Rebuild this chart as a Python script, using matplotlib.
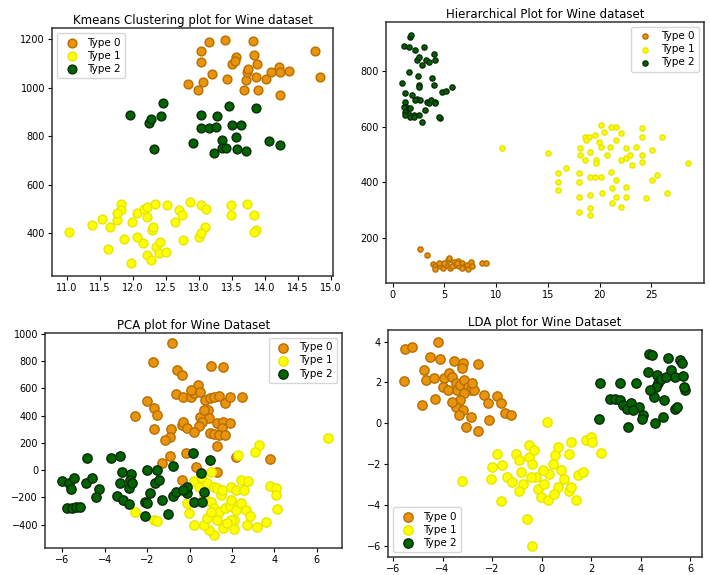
import matplotlib
matplotlib.use('Agg')
import matplotlib.pyplot as plt

plt.rcParams['font.family'] = ['DejaVu Sans']

labels = ['Type 0', 'Type 1', 'Type 2']
colors = ['#E8940C', '#FFFF00', '#006400']
edges = ['#B86E00', '#E6E600', '#0A2A0A']

# ---- Kmeans (alcohol vs proline) ----
km_x0 = [12.84, 12.99, 13.04, 13.04, 13.07, 13.16, 13.20, 13.39, 13.42, 13.50, 13.56, 13.69, 13.71, 13.73,
         13.82, 13.83, 13.86, 13.88, 13.89, 14.02, 14.09, 14.21, 14.22, 14.23, 14.37, 14.75, 14.83, 13.54, 13.75]
km_y0 = [1015, 988, 1104, 1152, 1022, 1186, 1054, 1197, 1033, 1097, 1125, 991, 1029, 1063,
         1193, 1132, 1045, 1095, 988, 1036, 1063, 1084, 970, 1063, 1066, 1149, 1045, 1111, 1077]
km_x1 = [11.03, 11.39, 11.54, 11.62, 11.65, 11.77, 11.82, 11.83, 11.87, 11.98, 11.99, 12.06, 12.07, 12.15,
         12.17, 12.21, 12.22, 12.28, 12.29, 12.31, 12.34, 12.36, 12.40, 12.42, 12.50, 12.52, 12.64, 12.70,
         12.74, 12.76, 12.87, 13.01, 13.04, 13.10, 13.11, 13.48, 13.49, 13.73, 13.84, 13.87, 13.84, 13.04,
         11.76, 12.21]
km_y1 = [407, 434, 461, 334, 427, 454, 523, 495, 379, 277, 448, 386, 482, 359,
         502, 311, 509, 290, 413, 427, 520, 345, 318, 366, 325, 516, 448, 495,
         475, 372, 530, 386, 516, 427, 502, 516, 475, 520, 475, 413, 407, 400,
         482, 468]
km_x2 = [11.96, 12.25, 12.28, 12.32, 12.43, 12.46, 12.91, 13.04, 13.04, 13.15, 13.26, 13.27, 13.23,
         13.35, 13.35, 13.41, 13.46, 13.50, 13.56, 13.58, 13.64, 13.71, 13.87, 14.06, 14.23]
km_y2 = [888, 854, 872, 746, 881, 936, 772, 885, 833, 835, 837, 881, 731,
         783, 751, 751, 922, 844, 796, 749, 844, 738, 915, 780, 762]

# ---- Hierarchical ----
hc_x0 = [2.68, 3.32, 3.87, 4.13, 4.06, 4.61, 4.84, 5.10, 5.35, 5.48, 5.58, 5.90, 6.06, 6.32, 6.65, 6.97,
         7.19, 7.29, 7.61, 7.68, 8.58, 8.97, 4.45, 4.94, 5.74, 6.39, 6.71, 6.23]
hc_y0 = [161, 140, 108, 99, 89, 99, 93, 105, 122, 128, 93, 116, 104, 120, 110, 99,
         104, 89, 116, 99, 110, 110, 110, 110, 99, 99, 93, 110]
hc_x1 = [10.58, 15.03, 16.0, 16.0, 16.0, 16.77, 18.0, 18.0, 18.0, 18.0, 18.06, 18.06, 18.58, 18.58,
         18.97, 19.03, 19.03, 19.03, 19.03, 19.03, 19.55, 19.61, 19.61, 19.55, 20.10, 19.94, 20.16, 20.10,
         20.74, 20.97, 21.06, 21.06, 21.16, 21.16, 21.55, 21.61, 21.61, 21.61, 22.03, 22.03, 22.1, 22.52,
         22.52, 22.52, 22.52, 22.9, 23.1, 23.48, 24.06, 24.13, 24.13, 24.13, 24.52, 25.1, 25.1, 25.58,
         26.06, 26.55, 28.55, 18.65, 20.26, 20.42]
hc_y1 = [522, 504, 433, 403, 373, 450, 433, 403, 349, 295, 522, 498, 564, 480,
         564, 510, 420, 355, 307, 283, 570, 480, 468, 420, 420, 546, 606, 528,
         498, 528, 600, 439, 379, 325, 600, 552, 409, 349, 576, 480, 313, 522,
         486, 385, 349, 498, 462, 528, 594, 564, 498, 474, 343, 516, 409, 426,
         564, 363, 468, 552, 361, 582]
hc_x2 = [1.06, 1.55, 1.71, 1.81, 2.13, 2.35, 2.52, 3.00, 3.23, 3.55, 3.97, 4.13, 1.61, 2.45, 2.52, 2.58,
         3.81, 3.97, 4.77, 5.10, 5.68, 0.90, 1.16, 1.87, 2.35, 2.68, 3.32, 3.55, 3.74, 4.13, 1.23, 1.29,
         1.39, 1.48, 1.71, 2.03, 2.52, 2.84, 3.16, 4.61, 4.45, 1.06, 1.16, 1.23, 1.71, 2.03, 2.19, 4.13, 2.84]
hc_y2 = [888, 886, 922, 928, 874, 838, 850, 884, 838, 832, 860, 838, 796, 781, 749, 740,
         773, 749, 725, 728, 743, 755, 721, 713, 697, 695, 689, 683, 695, 689, 689, 671,
         659, 647, 635, 641, 641, 617, 659, 629, 635, 671, 653, 641, 665, 635, 695, 683, 820]

# ---- PCA ----
pca_x0 = [-0.82, -1.72, -0.58, -0.35, 1.03, 1.59, -2.03, -1.66, -1.56, -2.56, -1.66, -0.66, -0.30, 0.05,
          0.20, 0.39, 0.49, 0.71, 0.96, 1.15, 1.39, 1.66, 1.91, 2.49, 0.87, 0.91, 0.49, 0.60, 0.44, -0.35,
          -0.30, -0.11, 0.20, -0.87, -0.93, -1.14, 1.31, 1.59, 1.91, 1.55, 0.96, 1.15, 1.39, 1.66, 1.31,
          -0.93, -1.29, -0.19, 0.28, 2.18, 3.80, 1.31, -0.35, 0.68, 0.05]
pca_y0 = [932, 793, 732, 696, 761, 752, 506, 452, 404, 396, 299, 557, 537, 533,
          562, 623, 574, 513, 525, 537, 542, 489, 533, 533, 440, 379, 391, 355, 323, 330,
          355, 306, 282, 299, 245, 221, 343, 355, 348, 306, 270, 265, 258, 258, 177,
          104, 55, 128, 26, 94, 80, -10, -71, 440, 586]
pca_x1 = [6.51, 3.28, 3.08, 2.29, 2.41, 2.76, 1.94, 2.18, 2.57, 3.80, 4.07, 4.07, 4.11, 1.47, 0.99,
          1.15, 1.39, 1.66, 1.91, 2.18, 2.41, 2.65, 2.85, 3.20, 3.60, 2.70, 2.10, 1.59, 1.15, 0.91, 0.68,
          0.20, -0.03, -0.11, 0.20, 0.44, 0.84, 1.15, 1.31, 1.55, 1.94, 1.94, 1.31, 0.84, -2.56, -1.69,
          -1.53, 0.68, 0.99, 1.78, 2.10, 0.52, 0.99]
pca_y1 = [233, 184, 136, 111, -71, -76, -120, -144, -144, -115, -132, -181, -286, -181, -230,
          -278, -303, -278, -266, -290, -242, -290, -339, -417, -383, -400, -363, -424, -473, -437, -400,
          -400, -315, -242, -83, -120, -96, -120, -132, -144, -217, -363, -363, -351, -303, -363,
          -376, -193, -310, -388, -432, -47, -10]
pca_x2 = [-6.03, -5.71, -5.60, -5.47, -5.79, -5.55, -5.35, -5.16, -4.84, -4.87, -4.61, -4.29, -4.40,
          -3.71, -3.30, -3.19, -3.30, -3.42, -3.14, -2.87, -2.76, -2.79, -2.87, -2.71, -2.00, -1.88,
          -2.08, -2.00, -2.08, -1.56, -1.61, -1.45, -1.29, -1.03, -0.77, -0.77, -0.66, -0.19, -0.14,
          -0.11, 0.17, 0.20, 0.52, 0.57, 0.68, 0.96, -0.30]
pca_y2 = [-76, -96, -137, -59, -278, -278, -271, -271, 87, -91, -54, -137, -198,
          87, 106, -10, -96, -193, -222, -249, -30, -71, -132, -96, 2, -169,
          -230, -242, -339, 2, -96, -71, -217, -322, 33, -188, -157, -144, -169,
          -125, 126, -230, -22, -230, -157, 75, -144]

# ---- LDA ----
lda_x0 = [-5.55, -5.51, -5.22, -4.20, -4.11, -4.51, -4.74, -4.68, -4.81, -4.30, -4.34, -3.94, -3.53,
          -3.19, -3.21, -2.55, -3.73, -3.60, -3.46, -3.40, -3.30, -3.13, -2.99, -2.86, -2.72, -3.13,
          -3.30, -3.46, -3.60, -3.19, -3.32, -2.83, -3.05, -2.55, -2.33, -2.16, -2.13, -1.79, -1.65,
          -1.48, -1.25, -4.00, -3.78, -2.80]
lda_y0 = [2.08, 3.62, 3.75, 4.00, 3.13, 3.26, 2.61, 2.11, 0.89, 1.21, 2.20, 2.20, 3.05,
          2.97, 2.69, 2.90, 2.48, 2.28, 1.95, 1.62, 1.87, 2.11, 1.79, 1.62, 1.62, 1.46,
          1.13, 0.80, 1.05, 0.64, 0.39, 0.31, -0.18, -0.38, 1.38, 0.97, 0.18, 1.33, 0.97,
          0.48, 0.39, 1.79, 1.62, 1.95]
lda_x1 = [0.20, -3.21, -1.65, -0.57, -0.37, -1.79, -2.02, -2.06, -1.59, -1.38, -1.04, -0.91, -0.84,
          -0.77, -0.91, -0.50, -0.50, -0.30, -0.37, -0.23, -0.16, -0.03, 0.24, 0.11, 0.31, 0.45, 0.56,
          0.65, 0.79, 0.92, 0.65, 0.52, 1.12, 1.19, 1.12, 1.19, 1.37, 1.46, 1.67, 1.80, 2.01, 2.05, 2.41,
          -1.21, -0.43, 0.04]
lda_y1 = [0.07, -2.85, -3.82, -4.69, -6.00, -1.49, -2.15, -2.72, -2.07, -2.64, -1.49, -1.82, -2.39,
          -2.97, -3.30, -1.08, -1.66, -1.33, -1.98, -2.64, -3.21, -3.62, -3.79, -2.97, -2.48, -1.98, -1.57,
          -1.16, -2.31, -2.72, -3.13, -3.46, -1.49, -0.92, -3.30, -3.13, -3.79, -2.56, -2.39, -0.84, -0.67,
          -0.92, -1.44, -2.89, -2.64, -2.31]
lda_x2 = [2.32, 2.37, 2.75, 2.95, 3.16, 3.16, 3.29, 3.43, 3.50, 3.59, 3.81, 3.94, 4.08, 4.04, 4.31,
          4.35, 4.44, 4.53, 4.57, 4.66, 4.70, 4.84, 4.91, 4.94, 5.04, 5.11, 5.24, 5.38, 5.38, 5.47, 5.58,
          5.65, 5.69, 5.79, 5.73, 4.61, 4.38, 3.70]
lda_y2 = [0.23, 1.95, 1.21, 1.21, 1.95, 1.13, 0.89, 0.72, -0.18, 0.97, 1.98, 0.80, 0.39, 0.23, 2.52,
          3.39, 3.34, 1.30, 0.02, 2.38, 1.98, 2.15, 0.31, 1.13, 2.26, 3.18, 2.61, 2.28, 0.72, 0.80, 3.10,
          2.97, 2.31, 1.62, 1.79, 1.79, 1.62, 0.64]

fig = plt.figure(figsize=(7.1, 5.75), dpi=100)

ax1 = fig.add_axes([0.0732, 0.52, 0.396, 0.431])
ax2 = fig.add_axes([0.5437, 0.508, 0.448, 0.454])
ax3 = fig.add_axes([0.0634, 0.047, 0.418, 0.374])
ax4 = fig.add_axes([0.5465, 0.031, 0.442, 0.395])


def draw(ax, xs, ys, size, title, loc, xlim, ylim, xticks, yticks):
    for i in range(3):
        ax.scatter(xs[i], ys[i], s=size, c=colors[i], edgecolors=edges[i], linewidths=1.0, label=labels[i])
    ax.set_title(title, fontsize=8.5, pad=3)
    ax.set_xlim(xlim)
    ax.set_ylim(ylim)
    ax.set_xticks(xticks)
    ax.set_yticks(yticks)
    ax.tick_params(labelsize=7, length=3, pad=2)
    for sp in ax.spines.values():
        sp.set_linewidth(1.1)
        sp.set_color('#333333')
    ax.legend(loc=loc, fontsize=7.5, handletextpad=0.5, borderpad=0.4, labelspacing=0.3)


draw(ax1, [km_x0, km_x1, km_x2], [km_y0, km_y1, km_y2], 40,
     'Kmeans Clustering plot for Wine dataset', 'upper left',
     (10.78, 15.03), (225, 1244),
     [11.0, 11.5, 12.0, 12.5, 13.0, 13.5, 14.0, 14.5, 15.0], [400, 600, 800, 1000, 1200])
ax1.set_xticklabels(['11.0', '11.5', '12.0', '12.5', '13.0', '13.5', '14.0', '14.5', '15.0'])

draw(ax2, [hc_x0, hc_x1, hc_x2], [hc_y0, hc_y1, hc_y2], 14,
     'Hierarchical Plot for Wine dataset', 'upper right',
     (-0.65, 30.1), (40, 975),
     [0, 5, 10, 15, 20, 25], [200, 400, 600, 800])

draw(ax3, [pca_x0, pca_x1, pca_x2], [pca_y0, pca_y1, pca_y2], 45,
     'PCA plot for Wine Dataset', 'upper right',
     (-6.82, 7.18), (-570, 1005),
     [-6, -4, -2, 0, 2, 4, 6], [-400, -200, 0, 200, 400, 600, 800, 1000])

draw(ax4, [lda_x0, lda_x1, lda_x2], [lda_y0, lda_y1, lda_y2], 45,
     'LDA plot for Wine Dataset', 'lower left',
     (-6.2, 6.47), (-6.57, 4.57),
     [-6, -4, -2, 0, 2, 4, 6], [-6, -4, -2, 0, 2, 4])

plt.savefig('out.png', dpi=100)
plt.close()
